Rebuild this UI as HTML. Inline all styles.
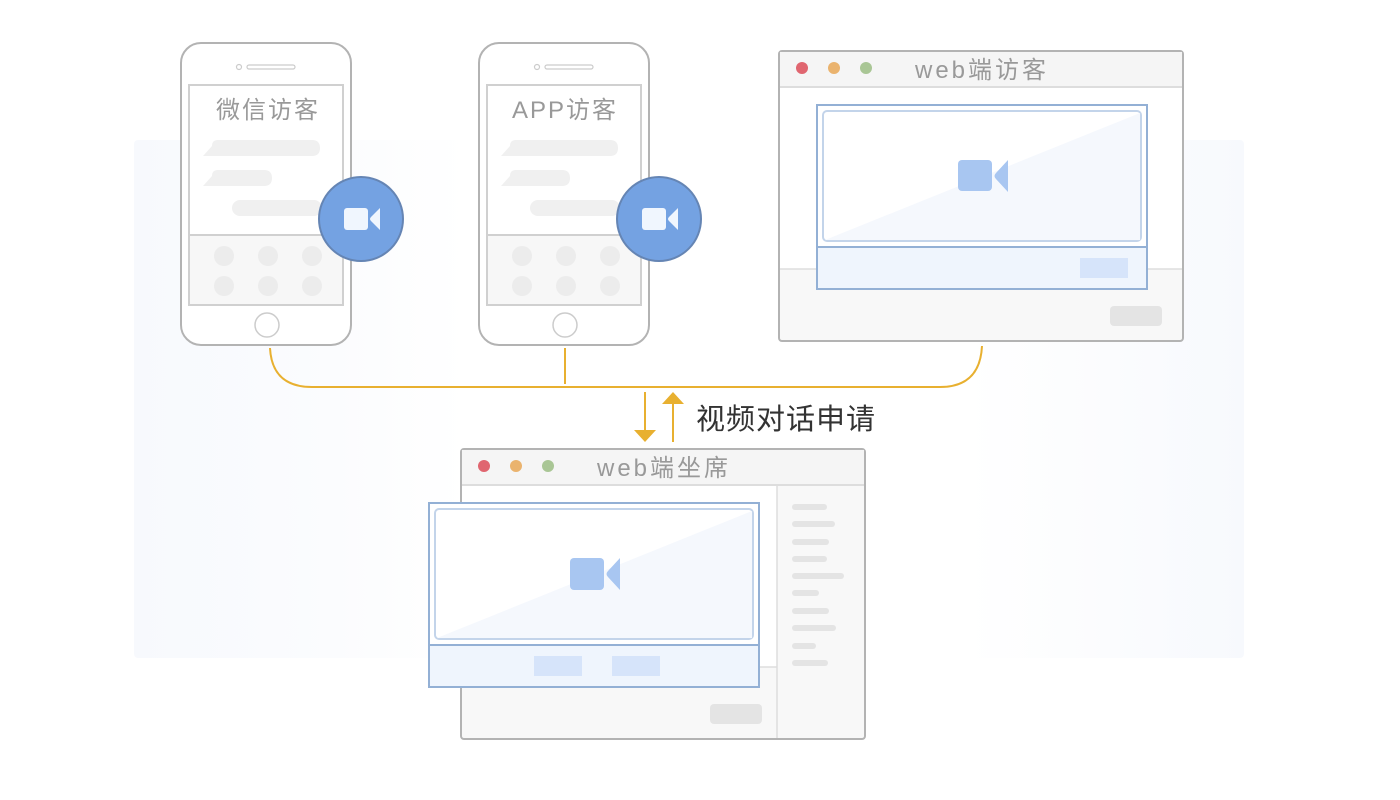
<!DOCTYPE html>
<html><head><meta charset="utf-8"><style>
html,body{margin:0;padding:0;background:#fff;}
svg{display:block;}
text{font-family:"Liberation Sans","Noto Sans CJK SC",sans-serif;}
</style></head><body>
<svg width="1400" height="800" viewBox="0 0 1400 800" xmlns="http://www.w3.org/2000/svg">
<defs>
<linearGradient id="bg" x1="0" y1="0" x2="1" y2="0">
<stop offset="0" stop-color="#f7f9fd"/>
<stop offset="0.18" stop-color="#fbfcfe"/>
<stop offset="0.3" stop-color="#ffffff"/>
<stop offset="0.75" stop-color="#ffffff"/>
<stop offset="0.88" stop-color="#fbfcfe"/>
<stop offset="1" stop-color="#f7f9fd"/>
</linearGradient>
</defs>
<rect x="134" y="140" width="1110" height="518" rx="4" fill="url(#bg)"/>

<!-- Phone 1 -->
<g>
<rect x="181" y="43" width="170" height="302" rx="20" fill="#fff" stroke="#b3b3b3" stroke-width="2"/>
<circle cx="239" cy="67" r="2.5" fill="none" stroke="#ccc" stroke-width="1.2"/>
<rect x="247" y="65" width="48" height="4" rx="2" fill="none" stroke="#ccc" stroke-width="1.2"/>
<rect x="189" y="85" width="154" height="220" fill="#fff" stroke="#d0d0d0" stroke-width="2"/>
<rect x="190" y="236" width="152" height="68" fill="#f7f7f7"/>
<line x1="189" y1="235" x2="343" y2="235" stroke="#d0d0d0" stroke-width="2"/>
<text x="268" y="118" font-size="24" fill="#999" text-anchor="middle" letter-spacing="2">微信访客</text>
<path d="M203 156 L212 146 Q212 140 218 140 L312 140 Q320 140 320 148 Q320 156 312 156 Z" fill="#f0f0f0"/>
<path d="M203 186 L212 176 Q212 170 218 170 L264 170 Q272 170 272 178 Q272 186 264 186 Z" fill="#f0f0f0"/>
<rect x="232" y="200" width="90" height="16" rx="8" fill="#f0f0f0"/>
<g fill="#ececec"><circle cx="224" cy="256" r="10"/><circle cx="268" cy="256" r="10"/><circle cx="312" cy="256" r="10"/><circle cx="224" cy="286" r="10"/><circle cx="268" cy="286" r="10"/><circle cx="312" cy="286" r="10"/></g>
<circle cx="267" cy="325" r="12" fill="#fff" stroke="#ccc" stroke-width="1.5"/>
<circle cx="361" cy="219" r="42" fill="#74a2e2" stroke="#6585b4" stroke-width="2"/>
<rect x="344" y="208" width="24" height="22" rx="3" fill="#f0f6fe"/>
<path d="M380 208 L380 230 L371 221 Q369 219 371 217 Z" fill="#f0f6fe"/>
</g>

<!-- Phone 2 -->
<g transform="translate(298,0)">
<rect x="181" y="43" width="170" height="302" rx="20" fill="#fff" stroke="#b3b3b3" stroke-width="2"/>
<circle cx="239" cy="67" r="2.5" fill="none" stroke="#ccc" stroke-width="1.2"/>
<rect x="247" y="65" width="48" height="4" rx="2" fill="none" stroke="#ccc" stroke-width="1.2"/>
<rect x="189" y="85" width="154" height="220" fill="#fff" stroke="#d0d0d0" stroke-width="2"/>
<rect x="190" y="236" width="152" height="68" fill="#f7f7f7"/>
<line x1="189" y1="235" x2="343" y2="235" stroke="#d0d0d0" stroke-width="2"/>
<text x="267" y="118" font-size="24" fill="#999" text-anchor="middle" letter-spacing="2">APP访客</text>
<path d="M203 156 L212 146 Q212 140 218 140 L312 140 Q320 140 320 148 Q320 156 312 156 Z" fill="#f0f0f0"/>
<path d="M203 186 L212 176 Q212 170 218 170 L264 170 Q272 170 272 178 Q272 186 264 186 Z" fill="#f0f0f0"/>
<rect x="232" y="200" width="90" height="16" rx="8" fill="#f0f0f0"/>
<g fill="#ececec"><circle cx="224" cy="256" r="10"/><circle cx="268" cy="256" r="10"/><circle cx="312" cy="256" r="10"/><circle cx="224" cy="286" r="10"/><circle cx="268" cy="286" r="10"/><circle cx="312" cy="286" r="10"/></g>
<circle cx="267" cy="325" r="12" fill="#fff" stroke="#ccc" stroke-width="1.5"/>
<circle cx="361" cy="219" r="42" fill="#74a2e2" stroke="#6585b4" stroke-width="2"/>
<rect x="344" y="208" width="24" height="22" rx="3" fill="#f0f6fe"/>
<path d="M380 208 L380 230 L371 221 Q369 219 371 217 Z" fill="#f0f6fe"/>
</g>

<!-- Web visitor window -->
<g>
<rect x="779" y="51" width="404" height="290" rx="3" fill="#f8f8f8" stroke="#b3b3b3" stroke-width="2"/>
<rect x="780" y="52" width="402" height="35" fill="#f5f5f5"/>
<rect x="780" y="88" width="402" height="181" fill="#fff"/>
<line x1="780" y1="87" x2="1182" y2="87" stroke="#ddd" stroke-width="2"/>
<line x1="780" y1="269" x2="1182" y2="269" stroke="#ddd" stroke-width="1.5"/>
<circle cx="802" cy="68" r="6" fill="#e06670"/><circle cx="834" cy="68" r="6" fill="#eab36e"/><circle cx="866" cy="68" r="6" fill="#a9c695"/>
<text x="982" y="78" font-size="24" fill="#999" text-anchor="middle" letter-spacing="3">web端访客</text>
<rect x="1110" y="306" width="52" height="20" rx="4" fill="#e4e4e4"/>
<rect x="817" y="105" width="330" height="184" fill="#fff" stroke="#93b0d5" stroke-width="2"/>
<rect x="823" y="111" width="318" height="130" rx="4" fill="#fff" stroke="#c3d4ea" stroke-width="2"/>
<path d="M825 240 L1140 113 L1140 240 Z" fill="#f5f8fd"/>
<rect x="818" y="247" width="328" height="41" fill="#eff5fd"/>
<line x1="817" y1="247" x2="1147" y2="247" stroke="#93b0d5" stroke-width="2"/>
<rect x="1080" y="258" width="48" height="20" fill="#d6e4fa"/>
<rect x="958" y="160" width="34" height="31" rx="4" fill="#a8c6f1"/>
<path d="M1008 160 L1008 192 L996 179 Q993 176 996 173 Z" fill="#a8c6f1"/>
</g>

<!-- Connectors -->
<path d="M270 348 Q272 387 312 387 L940 387 Q980 387 982 346" fill="none" stroke="#e8b030" stroke-width="2"/>
<line x1="565" y1="348" x2="565" y2="384" stroke="#e8b030" stroke-width="2"/>
<line x1="645" y1="392" x2="645" y2="432" stroke="#e8b030" stroke-width="2"/>
<path d="M634 430 L656 430 L645 442 Z" fill="#e8b030"/>
<line x1="673" y1="402" x2="673" y2="442" stroke="#e8b030" stroke-width="2"/>
<path d="M662 404 L684 404 L673 392 Z" fill="#e8b030"/>
<text x="696" y="429" font-size="29" fill="#333" letter-spacing="1">视频对话申请</text>

<!-- Web agent window -->
<g>
<rect x="461" y="449" width="404" height="290" rx="3" fill="#f8f8f8" stroke="#b3b3b3" stroke-width="2"/>
<rect x="462" y="450" width="402" height="35" fill="#f5f5f5"/>
<rect x="462" y="486" width="315" height="181" fill="#fff"/>
<line x1="462" y1="485" x2="864" y2="485" stroke="#ddd" stroke-width="2"/>
<line x1="462" y1="667" x2="777" y2="667" stroke="#ddd" stroke-width="1.5"/>
<line x1="777" y1="486" x2="777" y2="738" stroke="#ddd" stroke-width="1.5"/>
<circle cx="484" cy="466" r="6" fill="#e06670"/><circle cx="516" cy="466" r="6" fill="#eab36e"/><circle cx="548" cy="466" r="6" fill="#a9c695"/>
<text x="664" y="476" font-size="24" fill="#999" text-anchor="middle" letter-spacing="3">web端坐席</text>
<g fill="#e4e4e4">
<rect x="792" y="504" width="35" height="6" rx="3"/>
<rect x="792" y="521" width="43" height="6" rx="3"/>
<rect x="792" y="539" width="37" height="6" rx="3"/>
<rect x="792" y="556" width="35" height="6" rx="3"/>
<rect x="792" y="573" width="52" height="6" rx="3"/>
<rect x="792" y="590" width="27" height="6" rx="3"/>
<rect x="792" y="608" width="37" height="6" rx="3"/>
<rect x="792" y="625" width="44" height="6" rx="3"/>
<rect x="792" y="643" width="24" height="6" rx="3"/>
<rect x="792" y="660" width="36" height="6" rx="3"/>
</g>
<rect x="710" y="704" width="52" height="20" rx="4" fill="#e4e4e4"/>
<rect x="429" y="503" width="330" height="184" fill="#fff" stroke="#93b0d5" stroke-width="2"/>
<rect x="435" y="509" width="318" height="130" rx="4" fill="#fff" stroke="#c3d4ea" stroke-width="2"/>
<path d="M437 638 L752 511 L752 638 Z" fill="#f5f8fd"/>
<rect x="430" y="645" width="328" height="41" fill="#eff5fd"/>
<line x1="429" y1="645" x2="759" y2="645" stroke="#93b0d5" stroke-width="2"/>
<rect x="534" y="656" width="48" height="20" fill="#d6e4fa"/>
<rect x="612" y="656" width="48" height="20" fill="#d6e4fa"/>
<rect x="570" y="558" width="34" height="32" rx="4" fill="#a8c6f1"/>
<path d="M620 558 L620 590 L608 577 Q605 574 608 571 Z" fill="#a8c6f1"/>
</g>
</svg>
</body></html>
